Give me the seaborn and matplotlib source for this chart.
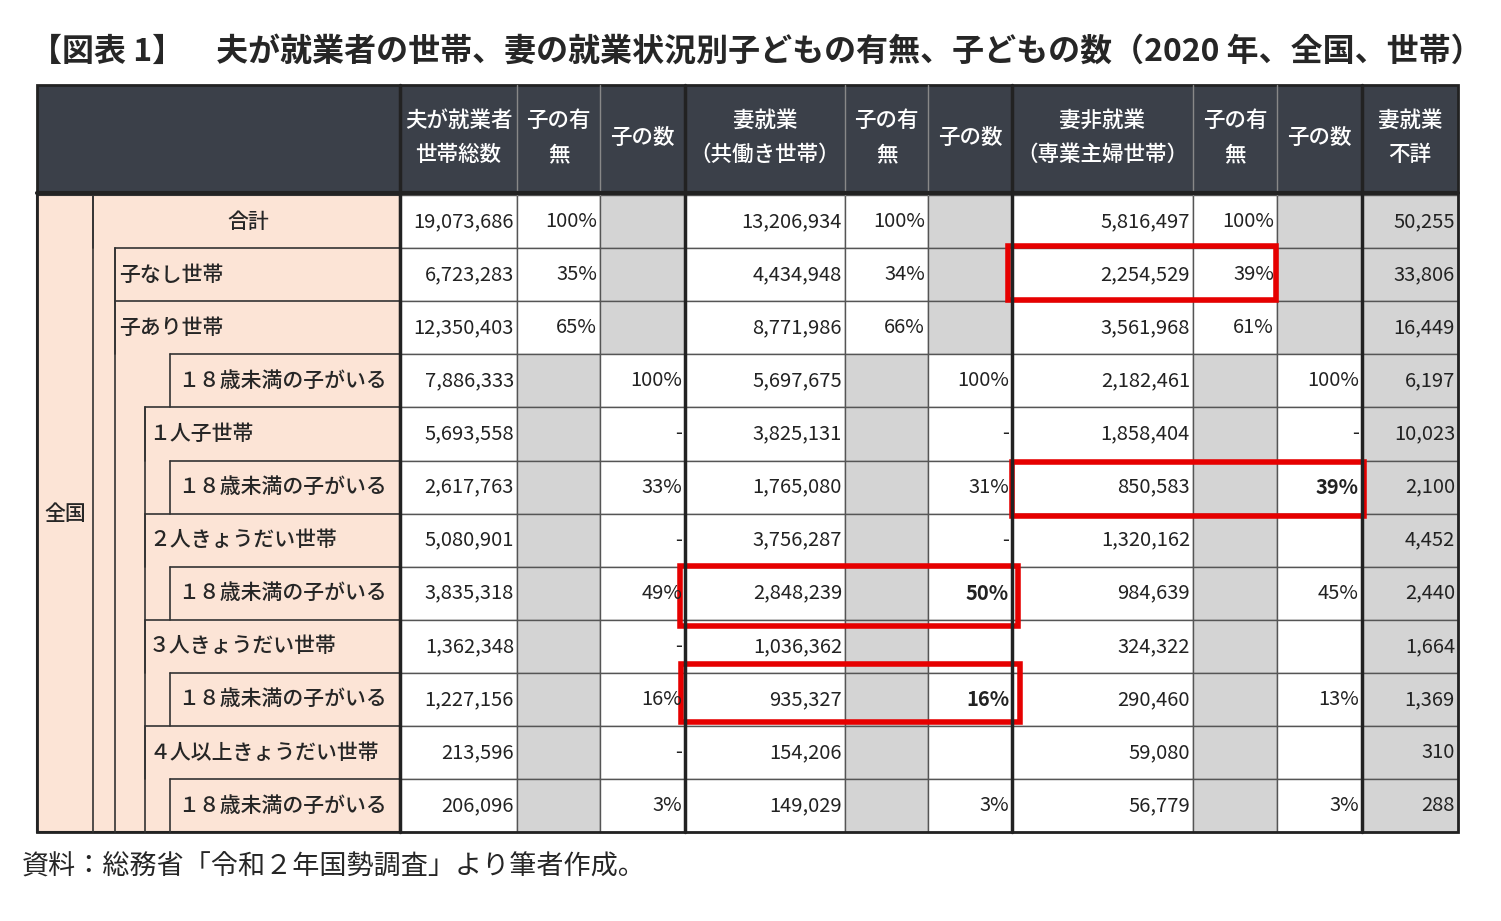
import matplotlib.pyplot as plt
import matplotlib.patches as patches
import seaborn as sns

sns.set_theme(style='white')
plt.rcParams['font.family'] = ['Noto Sans CJK JP', 'DejaVu Sans']

titulo = '【図表 1】　夫が就業者の世帯、妻の就業状況別子どもの有無、子どもの数（2020 年、全国、世帯）'
fonte = '資料：総務省「令和２年国勢調査」より筆者作成。'

cabecalhos = ['夫が就業者\n世帯総数', '子の有\n無', '子の数',
              '妻就業\n（共働き世帯）', '子の有\n無', '子の数',
              '妻非就業\n（専業主婦世帯）', '子の有\n無', '子の数',
              '妻就業\n不詳']

rotulos = ['合計', '子なし世帯', '子あり世帯', '１８歳未満の子がいる', '１人子世帯',
           '１８歳未満の子がいる', '２人きょうだい世帯', '１８歳未満の子がいる',
           '３人きょうだい世帯', '１８歳未満の子がいる', '４人以上きょうだい世帯',
           '１８歳未満の子がいる']
nivel = [0, 1, 1, 3, 2, 3, 2, 3, 2, 3, 2, 3]

total_marido = ['19,073,686', '6,723,283', '12,350,403', '7,886,333', '5,693,558', '2,617,763',
                '5,080,901', '3,835,318', '1,362,348', '1,227,156', '213,596', '206,096']
pct_marido = ['100%', '35%', '65%', '', '', '', '', '', '', '', '', '']
filhos_marido = ['', '', '', '100%', '-', '33%', '-', '49%', '-', '16%', '-', '3%']
esposa_trab = ['13,206,934', '4,434,948', '8,771,986', '5,697,675', '3,825,131', '1,765,080',
               '3,756,287', '2,848,239', '1,036,362', '935,327', '154,206', '149,029']
pct_trab = ['100%', '34%', '66%', '', '', '', '', '', '', '', '', '']
filhos_trab = ['', '', '', '100%', '-', '31%', '-', '50%', '', '16%', '', '3%']
esposa_nao = ['5,816,497', '2,254,529', '3,561,968', '2,182,461', '1,858,404', '850,583',
              '1,320,162', '984,639', '324,322', '290,460', '59,080', '56,779']
pct_nao = ['100%', '39%', '61%', '', '', '', '', '', '', '', '', '']
filhos_nao = ['', '', '', '100%', '-', '39%', '', '45%', '', '13%', '', '3%']
desconhecido = ['50,255', '33,806', '16,449', '6,197', '10,023', '2,100',
                '4,452', '2,440', '1,664', '1,369', '310', '288']

colunas = [total_marido, pct_marido, filhos_marido, esposa_trab, pct_trab, filhos_trab,
           esposa_nao, pct_nao, filhos_nao, desconhecido]
negrito = {(5, 8), (7, 5), (9, 5)}

# layout em pixels
xs = [400, 517, 600, 685, 845, 928, 1012, 1193, 1277, 1362, 1458]
y_cab, y0, h = 85, 195, 53.1
x_nivel = {0: 93, 1: 115, 2: 145, 3: 170}
escuro = '#3b4049'
pessego = '#fce4d6'
cinza = '#d4d4d4'

fig = plt.figure(figsize=(15.01, 9.21), dpi=100)
ax = fig.add_axes([0, 0, 1, 1])
ax.set_xlim(0, 1501)
ax.set_ylim(921, 0)
ax.axis('off')

ax.text(30, 52, titulo, fontsize=23, fontweight='bold', va='center', ha='left')

# cabecalho
ax.add_patch(patches.Rectangle((37, y_cab), 1458 - 37, y0 - y_cab, fc=escuro, ec='none'))
for j, c in enumerate(cabecalhos):
    xm = (xs[j] + xs[j + 1]) / 2
    ax.text(xm, (y_cab + y0 - 4) / 2, c, color='white', fontsize=15.5, ha='center', va='center',
            linespacing=1.7, fontweight='medium')
    ax.plot([xs[j], xs[j]], [y_cab, y0], color='#888888', lw=1)

# area dos rotulos
ax.add_patch(patches.Rectangle((37, y0), 400 - 37, h * 12, fc=pessego, ec='#333333', lw=1.5))
ax.plot([93, 93], [y0, y0 + 12 * h], color='#333333', lw=1.2)
ax.text(65, y0 + 6 * h, '全国', fontsize=15, ha='center', va='center', fontweight='medium')

for i, r in enumerate(rotulos):
    top = y0 + i * h
    xl = x_nivel[nivel[i]]
    ax.plot([xl, 400], [top, top], color='#333333', lw=1.2)
    ax.plot([xl, xl], [top, top + h], color='#333333', lw=1.2)
    if nivel[i] == 0:
        ax.text(248, top + h / 2, r, fontsize=15, ha='center', va='center', fontweight='medium')
    else:
        ax.text(xl + 4 if nivel[i] < 3 else xl + 8, top + h / 2, r, fontsize=15,
                ha='left', va='center', fontweight='medium')
ax.plot([115, 115], [y0 + h, y0 + 12 * h], color='#333333', lw=1.2)
ax.plot([145, 145], [y0 + 4 * h, y0 + 12 * h], color='#333333', lw=1.2)

# celulas de dados
for j, col in enumerate(colunas):
    for i, v in enumerate(col):
        top = y0 + i * h
        fundo = 'white'
        if j == 9:
            fundo = cinza
        elif j in (1, 4, 7) and i >= 3:
            fundo = cinza
        elif j in (2, 5, 8) and i <= 2:
            fundo = cinza
        ax.add_patch(patches.Rectangle((xs[j], top), xs[j + 1] - xs[j], h,
                                       fc=fundo, ec='#555555', lw=1))
        peso = 'bold' if (i, j) in negrito else 'normal'
        ax.text(xs[j + 1] - 3, top + h / 2, v, fontsize=14.5, ha='right', va='center',
                fontweight=peso, color='#222222')

# linhas separadoras dos blocos
for xb in (400, 685, 1012, 1362):
    ax.plot([xb, xb], [y_cab, y0 + 12 * h], color='#222222', lw=2.5)
ax.plot([37, 1458], [y0 - 1.5, y0 - 1.5], color='#222222', lw=3)
ax.add_patch(patches.Rectangle((37, y_cab), 1458 - 37, y0 + 12 * h - y_cab,
                               fc='none', ec='#222222', lw=2))

# destaques vermelhos
for (x1, y1, x2, y2) in [(1008, 246, 1276, 300), (1012, 462, 1364, 516),
                         (680, 566, 1018, 626), (681, 664, 1020, 722)]:
    ax.add_patch(patches.Rectangle((x1, y1), x2 - x1, y2 - y1, fc='none', ec='#e60000', lw=4))

ax.text(22, 866, fonte, fontsize=19.5, ha='left', va='center')

plt.savefig('out.png', dpi=100)
